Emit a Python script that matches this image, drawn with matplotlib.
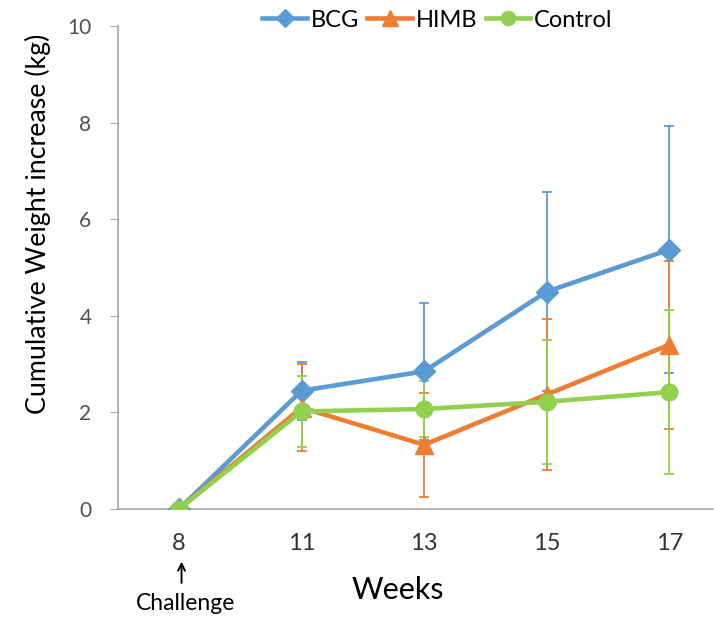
import matplotlib
matplotlib.use("Agg")
import matplotlib.pyplot as plt
import numpy as np

weeks = ["8", "11", "13", "15", "17"]
bcg = [0.0, 2.45, 2.85, 4.5, 5.37]
bcg_err = [0.0, 0.6, 1.42, 2.06, 2.56]
himb = [0.0, 2.1, 1.33, 2.37, 3.4]
himb_err = [0.0, 0.9, 1.08, 1.56, 1.74]
control = [0.0, 2.02, 2.07, 2.22, 2.42]
control_err = [0.0, 0.73, 0.58, 1.28, 1.7]

plt.rcParams['font.family'] = ['Lato', 'DejaVu Sans']

fig = plt.figure(figsize=(7.14, 6.19), dpi=100)
ax = fig.add_axes([0.165, 0.1777, 0.8336, 0.7803])

x = np.arange(len(weeks))
series = [
    ("BCG", bcg, bcg_err, "#5B9BD5", "D", 11),
    ("HIMB", himb, himb_err, "#ED7D31", "^", 13),
    ("Control", control, control_err, "#92D050", "o", 12),
]
for name, vals, errs, col, mk, ms in series:
    ax.errorbar(x, vals, yerr=errs, fmt='none', ecolor=col, elinewidth=1.3,
                capsize=3.4, capthick=1.3, zorder=2)
for name, vals, errs, col, mk, ms in series:
    ax.plot(x, vals, color=col, lw=3.3, marker=mk, markersize=ms,
            markeredgecolor=col, label=name, zorder=3)

ax.set_xlim(-0.5, 4.357)
ax.set_ylim(0, 10)
ax.set_yticks([0, 2, 4, 6, 8, 10])
ax.set_xticks(x)
ax.set_xticklabels(weeks)
for s in ['top', 'right']:
    ax.spines[s].set_visible(False)
for s in ['left', 'bottom']:
    ax.spines[s].set_color('#a6a6a6')
    ax.spines[s].set_linewidth(1.2)
ax.tick_params(axis='y', direction='out', length=6, color='#a6a6a6',
               labelsize=15, labelcolor='#505050', pad=13)
ax.tick_params(axis='x', length=0, labelsize=17, labelcolor='#333333', pad=17)

ax.set_ylabel("Cumulative Weight increase (kg)", fontsize=19.3, va='center')
ax.yaxis.set_label_coords(-0.135, 0.590)
ax.set_xlabel("Weeks", fontsize=22, va='center')
ax.xaxis.set_label_coords(0.4706, -0.168)

ax.annotate("", xy=(0.02, -1.09), xytext=(0.02, -1.53), xycoords='data',
            textcoords='data', annotation_clip=False,
            arrowprops=dict(arrowstyle='->,head_length=0.5,head_width=0.25',
                            color='black', lw=1.4, shrinkA=0, shrinkB=0))
ax.text(0.05, -1.95, "Challenge", ha='center', va='center', fontsize=16.5,
        clip_on=False)

leg = ax.legend(loc='center', bbox_to_anchor=(0.537, 1.012), ncol=3,
                frameon=False, fontsize=17, handlelength=1.9,
                columnspacing=0.35, handletextpad=0.15, markerscale=0.85)

fig.savefig("out.png", dpi=100)
